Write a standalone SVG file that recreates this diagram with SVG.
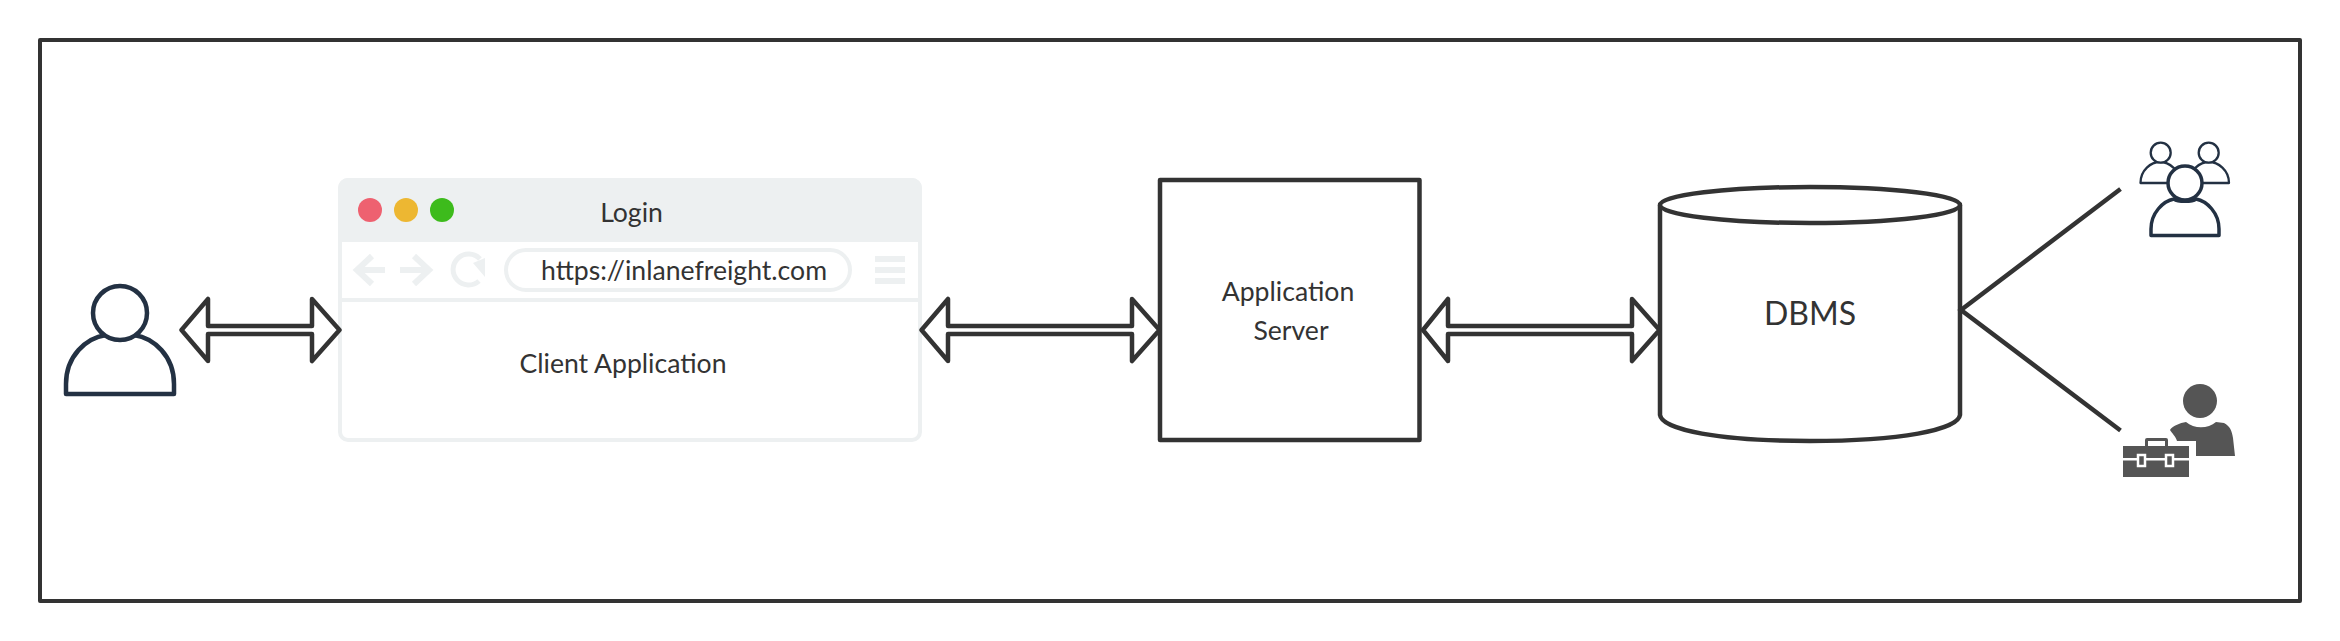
<svg xmlns="http://www.w3.org/2000/svg" width="2340" height="641" viewBox="0 0 2340 641">
<style>
text{font-family:Lato,"Liberation Sans",sans-serif;fill:#333;text-anchor:middle}
.t{font-size:26.6px}
.k{fill:#fff;stroke:#333;stroke-width:4.500;stroke-linejoin:round;stroke-linecap:round}
.u{fill:#fff;stroke:#233143;stroke-linejoin:round}
.g{fill:none;stroke:#edf0f1;stroke-width:4}
.f{fill:#edf0f1}
.d{fill:#555}
</style>
<rect width="2340" height="641" fill="#fff"/>
<rect id="frame" x="40" y="40" width="2260" height="561" fill="#fff" stroke="#333" stroke-width="4" stroke-linejoin="round"/>
<g id="user">
<path class="u" stroke-width="4.500" d="M66 394V384C66 356 86 338 106 335C112 341 128 341 134 335C154 338 174 356 174 384V394Z"/>
<circle class="u" stroke-width="4.500" cx="120" cy="313" r="27"/>
</g>
<g id="browser">
<path class="f" d="M338 242V188a10 10 0 0 1 10-10H912a10 10 0 0 1 10 10V242Z"/>
<rect class="g" x="340" y="180" width="580" height="260" rx="8"/>
<path class="g" d="M340 300H920"/>
<circle cx="370" cy="210" r="12" fill="#ee6170"/>
<circle cx="406" cy="210" r="12" fill="#edb732"/>
<circle cx="442" cy="210" r="12" fill="#3dbb1c"/>
<text class="t" x="631.500" y="221.500">Login</text>
<path fill="none" stroke="#edf0f1" stroke-width="6" d="M385 270H356M372 256L357 270L372 284M400 270H429M414 256L429 270L414 284"/>
<path fill="none" stroke="#edf0f1" stroke-width="5" d="M480 259A15.500 15.500 0 1 0 479 281"/>
<path class="f" d="M473 263L485 277V258Z"/>
<rect class="g" x="506" y="250" width="344" height="40" rx="20"/>
<text class="t" x="684" y="280">https://inlanefreight.com</text>
<path class="f" d="M875 256h30v6h-30zM875 267h30v6h-30zM875 278h30v6h-30z"/>
<text class="t" x="623" y="372.500">Client Application</text>
</g>
<g id="appserver">
<rect x="1160" y="180" width="259.500" height="260" fill="#fff" stroke="#333" stroke-width="4.500" stroke-linejoin="round"/>
<text class="t" x="1288" y="300.500">Application</text>
<text class="t" x="1291" y="339.500">Server</text>
</g>
<g id="dbms">
<path fill="#fff" stroke="#333" stroke-width="4.500" d="M1660 205V415C1662 430 1720 441 1810 441C1900 441 1958 430 1960 415V205"/>
<ellipse cx="1810" cy="205" rx="150" ry="18" fill="#fff" stroke="#333" stroke-width="4.500"/>
<text x="1810" y="325" font-size="32">DBMS</text>
</g>
<g id="users">
<path class="u" stroke-width="2.300" d="M2140.500 183C2140.500 170 2151 162 2160 162C2169 162 2180 170 2180 183Z"/>
<path class="u" stroke-width="2.300" d="M2189 183C2189 170 2200 162 2209 162C2218 162 2229 170 2229 183Z"/>
<circle class="u" stroke-width="2.300" cx="2160.700" cy="152.700" r="10"/>
<circle class="u" stroke-width="2.300" cx="2208.700" cy="152.700" r="10"/>
<path class="u" stroke-width="3.500" d="M2151 235.500V229C2151 213 2163 201 2174 199C2178 202 2192 202 2196 199C2207 201 2219 213 2219 229V235.500Z"/>
<circle class="u" stroke-width="3.500" cx="2185" cy="183" r="17"/>
</g>
<g id="support">
<circle class="d" cx="2200" cy="401" r="17"/>
<path class="d" d="M2170 430C2172 426 2180 423 2186 422C2194 429 2208 429 2216 422L2224 423C2230 426 2232 431 2233 438L2235 456H2196V441H2177C2176 437 2172 433 2170 430Z"/>
<path class="d" d="M2145 446V440Q2145 438 2147 438H2166Q2168 438 2168 440V446H2189V458H2123V446ZM2148 446H2165V441H2148ZM2123 460.500H2189V477H2123Z"/>
<path class="d" stroke="#fff" stroke-width="2.500" d="M2138 455h7v11h-7zM2166 455h7v11h-7z"/>
</g>
<g id="connectors">
<path class="k" d="M181.500 330L208 299V326H312V299L339.500 330L312 361V334H208V361Z"/>
<path class="k" d="M921.500 330L948 299V326H1132V299L1159.500 330L1132 361V334H948V361Z"/>
<path class="k" d="M1423 330L1448 299V326H1632V299L1659.500 330L1632 361V334H1448V361Z"/>
<path fill="none" stroke="#333" stroke-width="4.500" d="M2120.500 189L1961 310L2120.500 430.500"/>
</g>
</svg>
